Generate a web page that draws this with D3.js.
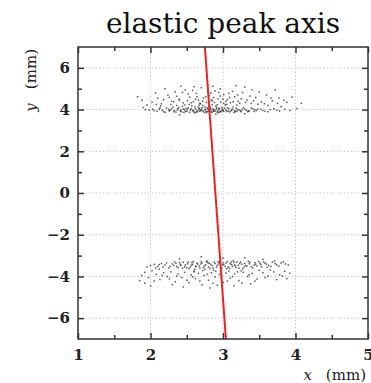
<!DOCTYPE html>
<html>
<head>
<meta charset="utf-8">
<script src="https://cdn.jsdelivr.net/npm/d3@7"></script>
<style>
  html, body { margin: 0; padding: 0; background: #fff; }
  svg { display: block; }
</style>
</head>
<body>
<svg id="chart" width="371" height="383"></svg>
<script>
// Axis domains and tick values
const xDomain = [1, 5];
const yDomain = [-7, 7];
const xMajorTicks = [1, 2, 3, 4, 5];
const xMinorTicks = [1.5, 2.5, 3.5, 4.5];
const yMajorTicks = [-6, -4, -2, 0, 2, 4, 6];
const yMinorTicks = [-5, -3, -1, 1, 3, 5];
const xGrid = [2, 3, 4];
const yGrid = [-6, -4, -2, 0, 2, 4, 6];

// Hit positions, upper spot (x, y pairs in mm)
const upperSpot = [
  2.05,3.95, 2.12,4.02, 2.18,3.90, 2.22,4.08, 2.27,3.97, 2.31,4.12, 2.35,3.88, 2.38,4.05,
  2.41,3.93, 2.44,4.15, 2.47,4.00, 2.50,3.91, 2.52,4.09, 2.55,3.98, 2.57,4.18, 2.60,3.89,
  2.62,4.04, 2.64,3.95, 2.66,4.11, 2.68,3.92, 2.70,4.02, 2.72,4.20, 2.74,3.87, 2.76,3.99,
  2.78,4.08, 2.80,3.94, 2.82,4.14, 2.84,3.90, 2.86,4.03, 2.88,3.96, 2.90,4.17, 2.92,3.89,
  2.94,4.06, 2.96,3.93, 2.98,4.10, 3.00,3.98, 3.03,4.22, 3.05,3.91, 3.08,4.05, 3.11,3.95,
  3.14,4.13, 3.17,3.90, 3.20,4.01, 3.24,3.94, 3.28,4.09, 3.32,3.97, 3.36,3.92, 3.41,4.04,
  3.46,3.96, 3.52,4.02, 3.58,3.93, 3.65,4.00, 3.74,3.97, 3.85,4.01,
  2.09,3.92, 2.25,4.01, 2.33,3.96, 2.43,3.89, 2.49,4.06, 2.58,3.94, 2.63,3.88, 2.67,4.00,
  2.71,3.95, 2.75,4.12, 2.79,3.91, 2.83,3.98, 2.87,3.92, 2.91,4.03, 2.95,3.88, 2.99,3.95,
  3.02,4.07, 3.07,3.93, 3.12,3.99, 3.19,3.92, 3.26,4.00, 3.34,3.90, 3.44,3.99, 2.36,4.20,
  2.53,4.25, 2.69,4.28, 2.85,4.24, 3.01,4.30, 2.61,3.85, 2.77,3.86, 2.93,3.85, 2.46,3.86,
  3.15,3.87, 2.20,3.87, 1.98,3.98, 1.93,4.00,
  2.26,3.93, 2.29,4.04, 2.32,3.90, 2.37,3.99, 2.39,4.10, 2.42,3.97, 2.45,4.03, 2.48,3.92,
  2.51,4.00, 2.54,3.87, 2.56,4.05, 2.59,3.97, 2.61,4.13, 2.65,3.90, 2.67,4.06, 2.69,3.97,
  2.71,4.09, 2.73,3.93, 2.75,4.01, 2.77,3.90, 2.79,4.04, 2.81,3.97, 2.83,4.08, 2.85,3.88,
  2.87,4.00, 2.89,3.93, 2.91,4.10, 2.93,3.96, 2.95,4.04, 2.97,3.90, 2.99,4.02, 3.01,3.92,
  3.04,3.99, 3.06,4.09, 3.09,3.89, 3.13,4.02, 3.16,3.95, 3.18,4.07, 3.22,3.98, 3.25,3.90,
  3.30,4.03, 3.35,3.95, 3.39,4.08, 3.43,3.91, 3.48,4.03, 3.55,3.96, 3.62,3.90, 3.70,4.04,
  3.78,3.93, 3.92,3.96, 2.16,3.97, 2.13,4.08, 2.03,4.02,
  2.02,4.35, 2.10,4.55, 2.15,4.28, 2.24,4.70, 2.29,4.40, 2.34,4.85, 2.39,4.50, 2.45,4.32,
  2.48,4.95, 2.54,4.60, 2.59,4.38, 2.63,4.78, 2.66,4.45, 2.70,5.05, 2.73,4.55, 2.77,4.35,
  2.81,4.68, 2.85,4.42, 2.89,4.90, 2.93,4.52, 2.97,4.36, 3.01,4.72, 3.06,4.48, 3.10,4.33,
  3.16,4.62, 3.21,4.40, 3.27,4.82, 3.33,4.46, 3.39,4.30, 3.45,4.58, 3.53,4.37, 3.60,4.70,
  3.68,4.42, 3.77,4.55, 3.88,4.35, 3.95,4.60, 1.88,4.45, 1.82,4.62, 2.07,4.80, 2.20,5.00,
  2.42,5.12, 2.58,4.92, 2.79,5.20, 2.96,5.00, 3.13,4.88, 3.30,5.08, 3.50,4.85, 3.72,4.95,
  2.51,4.42, 2.87,4.58, 3.04,4.40, 2.32,4.38, 2.68,4.30, 3.23,4.30, 3.48,4.26, 3.62,4.20,
  3.80,4.15, 2.14,4.18, 1.95,4.22, 4.02,4.05, 2.40,3.75, 2.90,3.78, 3.30,3.80,
  2.28,4.25, 2.40,4.45, 2.47,4.22, 2.56,4.33, 2.62,4.50, 2.67,4.21, 2.72,4.40, 2.76,4.62,
  2.80,4.27, 2.84,4.48, 2.88,4.34, 2.92,4.23, 2.96,4.65, 3.00,4.50, 3.05,4.25, 3.09,4.58,
  3.14,4.38, 3.19,4.22, 3.25,4.52, 3.31,4.35, 3.37,4.65, 3.42,4.43, 3.57,4.28, 3.66,4.55,
  3.75,4.30, 3.84,4.45, 2.18,4.48, 2.08,4.25, 2.26,4.58, 2.36,4.64, 2.52,4.75, 2.64,4.62,
  2.83,4.80, 3.08,4.78, 3.20,4.70, 2.44,4.82, 2.94,4.82, 3.40,4.95, 2.60,5.10, 2.86,5.12,
  3.18,5.15, 1.90,4.10, 4.08,4.30
];

// Hit positions, lower spot (x, y pairs in mm)
const lowerSpot = [
  2.30,-3.40, 2.36,-3.52, 2.40,-3.33, 2.44,-3.60, 2.48,-3.45, 2.52,-3.30, 2.55,-3.55, 2.58,-3.42,
  2.61,-3.65, 2.64,-3.36, 2.67,-3.50, 2.70,-3.28, 2.73,-3.58, 2.76,-3.44, 2.79,-3.34, 2.82,-3.62,
  2.85,-3.48, 2.88,-3.31, 2.91,-3.56, 2.94,-3.40, 2.97,-3.68, 3.00,-3.35, 3.03,-3.52, 3.06,-3.29,
  3.09,-3.61, 3.12,-3.43, 3.15,-3.33, 3.18,-3.57, 3.21,-3.46, 3.24,-3.30, 3.27,-3.64, 3.30,-3.38,
  3.33,-3.50, 3.37,-3.32, 3.41,-3.59, 3.45,-3.41, 3.49,-3.28, 3.53,-3.54, 3.58,-3.36, 3.63,-3.47,
  3.68,-3.31, 3.74,-3.44, 3.80,-3.35, 3.86,-3.40,
  2.33,-3.30, 2.42,-3.47, 2.50,-3.58, 2.57,-3.33, 2.63,-3.53, 2.69,-3.40, 2.75,-3.66, 2.81,-3.37,
  2.87,-3.70, 2.93,-3.29, 2.99,-3.45, 3.05,-3.63, 3.11,-3.31, 3.17,-3.49, 3.23,-3.38, 3.29,-3.55,
  3.35,-3.27, 3.43,-3.46, 3.51,-3.37, 3.61,-3.56, 3.71,-3.26, 2.20,-3.45, 2.25,-3.60, 2.15,-3.38,
  2.10,-3.52, 2.05,-3.42, 2.72,-3.72, 2.90,-3.75, 3.08,-3.74, 2.60,-3.74, 3.25,-3.73, 2.78,-3.25,
  2.96,-3.24, 3.14,-3.25,
  2.32,-3.47, 2.35,-3.36, 2.38,-3.58, 2.41,-3.42, 2.45,-3.32, 2.47,-3.54, 2.51,-3.39, 2.53,-3.62,
  2.56,-3.46, 2.59,-3.29, 2.62,-3.50, 2.65,-3.41, 2.68,-3.60, 2.71,-3.35, 2.74,-3.49, 2.77,-3.30,
  2.80,-3.55, 2.83,-3.42, 2.86,-3.60, 2.89,-3.38, 2.92,-3.47, 2.95,-3.33, 2.98,-3.58, 3.01,-3.43,
  3.04,-3.36, 3.07,-3.55, 3.10,-3.39, 3.13,-3.52, 3.16,-3.44, 3.19,-3.31, 3.22,-3.60, 3.26,-3.41,
  3.31,-3.48, 3.36,-3.39, 3.39,-3.53, 3.44,-3.34, 3.47,-3.50, 3.52,-3.43, 3.56,-3.30, 3.60,-3.41,
  3.66,-3.52, 3.72,-3.38, 3.77,-3.50, 3.83,-3.30, 3.90,-3.45, 2.27,-3.52, 2.22,-3.35, 2.17,-3.55,
  2.12,-3.43, 2.07,-3.60, 2.00,-3.48,
  1.88,-3.95, 1.92,-3.80, 1.97,-4.05, 2.02,-3.72, 2.08,-3.90, 2.13,-4.15, 2.18,-3.82, 2.23,-4.00,
  2.28,-3.78, 2.34,-4.25, 2.38,-3.88, 2.43,-4.05, 2.47,-3.80, 2.53,-4.30, 2.56,-3.92, 2.62,-4.10,
  2.66,-3.85, 2.71,-4.40, 2.74,-3.95, 2.80,-4.18, 2.84,-3.82, 2.89,-4.02, 2.95,-3.90, 3.00,-4.28,
  3.04,-3.84, 3.10,-4.08, 3.16,-3.88, 3.22,-4.20, 3.28,-3.80, 3.34,-4.00, 3.40,-3.86, 3.47,-4.12,
  3.55,-3.82, 3.62,-3.98, 3.70,-3.78, 3.78,-3.92, 3.85,-3.75, 3.92,-3.85, 2.00,-4.45, 2.45,-4.50,
  2.92,-4.42, 3.38,-4.35, 3.88,-4.10, 1.85,-4.20, 2.60,-3.78, 3.20,-3.78, 3.50,-3.70, 3.65,-3.68,
  2.12,-3.65, 1.95,-3.55, 2.40,-3.15, 3.00,-3.12, 3.55,-3.18, 2.70,-3.05, 3.30,-3.10,
  2.16,-3.95, 2.26,-4.12, 2.36,-3.98, 2.50,-4.18, 2.58,-4.02, 2.68,-4.22, 2.78,-3.90, 2.86,-4.32,
  2.98,-4.00, 3.06,-4.22, 3.13,-4.00, 3.26,-4.32, 3.36,-3.92, 3.44,-4.22, 3.58,-4.05, 3.74,-4.15,
  3.82,-3.98, 2.05,-4.22, 1.92,-4.32, 2.30,-4.40, 2.82,-4.55, 3.15,-4.45
];

// Fitted elastic peak axis: endpoints (x, y)
const axisLineX = [2.75, 3.04];
const axisLineY = [7, -7];

const margin = { left: 78, top: 47, right: 3, bottom: 44 };
const W = 371, H = 383;
const iw = W - margin.left - margin.right;
const ih = H - margin.top - margin.bottom;

const svg = d3.select("#chart");
const x = d3.scaleLinear().domain(xDomain).range([0, iw]);
const y = d3.scaleLinear().domain(yDomain).range([ih, 0]);

const g = svg.append("g").attr("transform", `translate(${margin.left},${margin.top})`);

svg.append("defs").append("clipPath").attr("id", "plot-clip")
  .append("rect").attr("width", iw).attr("height", ih);

// Dotted grid
g.append("g").selectAll("line.gx").data(xGrid).join("line")
  .attr("x1", d => x(d)).attr("x2", d => x(d)).attr("y1", 0).attr("y2", ih)
  .attr("stroke", "#c8c8c8").attr("stroke-width", 1).attr("stroke-dasharray", "1.5,2");
g.append("g").selectAll("line.gy").data(yGrid).join("line")
  .attr("x1", 0).attr("x2", iw).attr("y1", d => y(d)).attr("y2", d => y(d))
  .attr("stroke", "#c8c8c8").attr("stroke-width", 1).attr("stroke-dasharray", "1.5,2");

// Scatter of hits
const toPairs = arr => d3.range(0, arr.length, 2).map(i => [arr[i], arr[i + 1]]);
const pts = toPairs(upperSpot).concat(toPairs(lowerSpot));
g.append("g").attr("clip-path", "url(#plot-clip)")
  .selectAll("rect").data(pts).join("rect")
  .attr("x", d => x(d[0]) - 0.7).attr("y", d => y(d[1]) - 0.7)
  .attr("width", 1.5).attr("height", 1.5)
  .attr("fill", "#222").attr("fill-opacity", 0.75);

// Axis line
g.append("line").attr("clip-path", "url(#plot-clip)")
  .attr("x1", x(axisLineX[0])).attr("y1", y(axisLineY[0]))
  .attr("x2", x(axisLineX[1])).attr("y2", y(axisLineY[1]))
  .attr("stroke", "#ee2222").attr("stroke-width", 2);

// Frame with inward ticks on all four sides
const frameColor = "#333";
const axB = d3.axisBottom(x).tickValues(xMajorTicks).tickSizeInner(-6).tickSizeOuter(0).tickPadding(10)
  .tickFormat(d3.format("d"));
const axBm = d3.axisBottom(x).tickValues(xMinorTicks).tickSizeInner(-4).tickSizeOuter(0).tickFormat("");
const axT = d3.axisTop(x).tickValues(xMajorTicks).tickSizeInner(-6).tickSizeOuter(0).tickFormat("");
const axTm = d3.axisTop(x).tickValues(xMinorTicks).tickSizeInner(-4).tickSizeOuter(0).tickFormat("");
const axL = d3.axisLeft(y).tickValues(yMajorTicks).tickSizeInner(-6).tickSizeOuter(0).tickPadding(8)
  .tickFormat(d => d3.format("d")(d).replace("-", "\u2212"));
const axLm = d3.axisLeft(y).tickValues(yMinorTicks).tickSizeInner(-4).tickSizeOuter(0).tickFormat("");
const axR = d3.axisRight(y).tickValues(yMajorTicks).tickSizeInner(-6).tickSizeOuter(0).tickFormat("");
const axRm = d3.axisRight(y).tickValues(yMinorTicks).tickSizeInner(-4).tickSizeOuter(0).tickFormat("");

function styleAxis(sel) {
  sel.selectAll("path.domain").remove();
  sel.selectAll(".tick line").attr("stroke", frameColor).attr("stroke-width", 1.5);
  sel.selectAll(".tick text").attr("fill", "#222")
    .style("font-family", "'DejaVu Serif', serif").style("font-size", "15px").style("font-weight", "bold");
}
g.append("g").attr("transform", `translate(0,${ih})`).call(axB).call(styleAxis);
g.append("g").attr("transform", `translate(0,${ih})`).call(axBm).call(styleAxis);
g.append("g").call(axT).call(styleAxis);
g.append("g").call(axTm).call(styleAxis);
g.append("g").call(axL).call(styleAxis);
g.append("g").call(axLm).call(styleAxis);
g.append("g").attr("transform", `translate(${iw},0)`).call(axR).call(styleAxis);
g.append("g").attr("transform", `translate(${iw},0)`).call(axRm).call(styleAxis);

g.append("rect").attr("width", iw).attr("height", ih)
  .attr("fill", "none").attr("stroke", frameColor).attr("stroke-width", 1.5);

// Title
svg.append("text")
  .attr("x", margin.left + iw / 2).attr("y", 33)
  .attr("text-anchor", "middle")
  .style("font-family", "'DejaVu Serif', serif").style("font-size", "28px")
  .attr("fill", "#111")
  .text("elastic peak axis");

// Axis titles
const xt = svg.append("text")
  .attr("x", W - 5).attr("y", 380).attr("text-anchor", "end")
  .style("font-family", "'DejaVu Serif', serif").style("font-size", "15px").attr("fill", "#222");
xt.append("tspan").style("font-style", "italic").text("x");
xt.append("tspan").attr("dx", 14).text("(mm)");

const yt = svg.append("text")
  .attr("transform", `translate(36,${margin.top + 2}) rotate(-90)`)
  .attr("text-anchor", "end")
  .style("font-family", "'DejaVu Serif', serif").style("font-size", "15px").attr("fill", "#222");
yt.append("tspan").style("font-style", "italic").text("y");
yt.append("tspan").attr("dx", 14).text("(mm)");
</script>
</body>
</html>
